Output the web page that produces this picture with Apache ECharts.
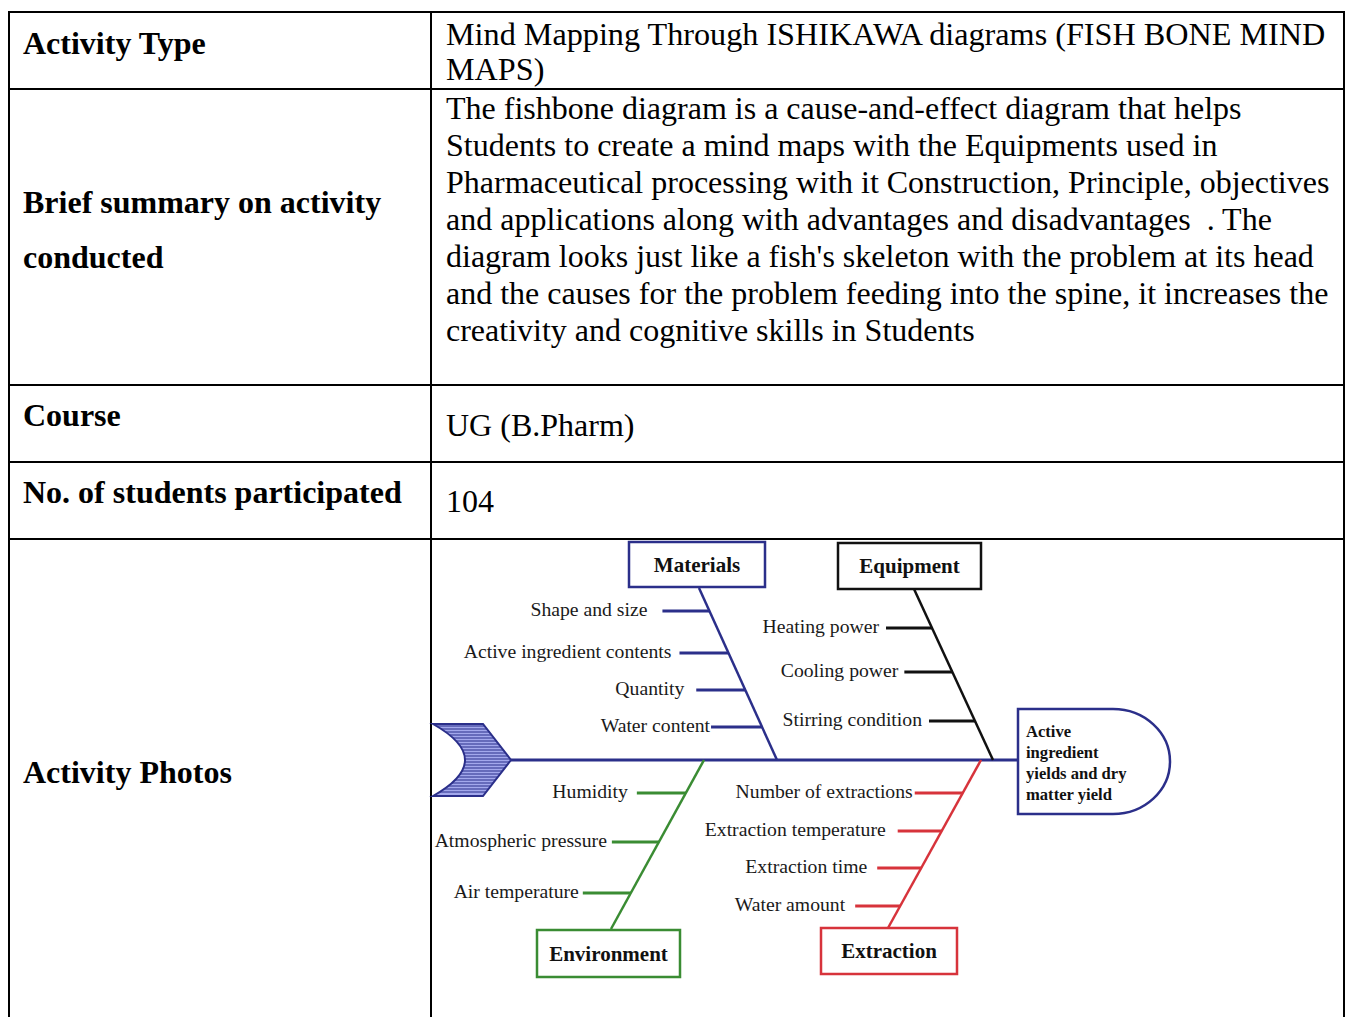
<!DOCTYPE html>
<html><head><meta charset="utf-8">
<script src="https://cdn.jsdelivr.net/npm/echarts@6/dist/echarts.min.js"></script>
<style>html,body{margin:0;padding:0;background:#fff}#c{width:1347px;height:1017px}</style>
</head><body><div id="c"></div>
<script>
// ---------- DATA ----------
const rowLabels = [
  ['Activity Type'],
  ['Brief summary on activity', 'conducted'],
  ['Course'],
  ['No. of students participated'],
  ['Activity Photos']
];
const rowValues = [
  ['Mind Mapping Through ISHIKAWA diagrams (FISH BONE MIND', 'MAPS)'],
  ['The fishbone diagram is a cause-and-effect diagram that helps',
   'Students to create a mind maps with the Equipments used in',
   'Pharmaceutical processing with it Construction, Principle, objectives',
   'and applications along with advantages and disadvantages  . The',
   "diagram looks just like a fish's skeleton with the problem at its head",
   'and the causes for the problem feeding into the spine, it increases the',
   'creativity and cognitive skills in Students'],
  ['UG (B.Pharm)'],
  ['104'],
  []
];
const branches = ['Materials', 'Equipment', 'Environment', 'Extraction'];
const materialsCauses = ['Shape and size', 'Active ingredient contents', 'Quantity', 'Water content'];
const equipmentCauses = ['Heating power', 'Cooling power', 'Stirring condition'];
const environmentCauses = ['Humidity', 'Atmospheric pressure', 'Air temperature'];
const extractionCauses = ['Number of extractions', 'Extraction temperature', 'Extraction time', 'Water amount'];
const effectLines = ['Active', 'ingredient', 'yields and dry', 'matter yield'];

// ---------- LAYOUT / STYLE ----------
const SERIF = '"Liberation Serif","Times New Roman",serif';
const causeLists = [materialsCauses, equipmentCauses, environmentCauses, extractionCauses];
const tableLeft = 9, tableRight = 1344, colDiv = 431, tableTop = 12, tableBottom = 1017;
const rowLines = [12, 89, 385, 462, 539];
const labelY = [[43], [202, 257], [415], [492], [772]];
const valueY = [[34, 69], [108, 145, 182, 219, 256, 293, 330], [425], [501], []];
const valueSize = [[32.2, 32.2], [32, 32, 32, 32, 32, 32, 32], [32], [32], []];
const NAVY = '#2b2f8a';
const branchLayout = [
  {color: NAVY,      box: [198, 3, 136, 45],   bone: [[268, 49], [346, 221]],  causeY: [72, 114, 151, 188], len: [47, 49, 49, 51], gap: [15, 8, 12, 1]},
  {color: '#111111', box: [407, 4, 143, 46],   bone: [[483, 50], [562, 221]],  causeY: [89, 133, 182],      len: [46, 48, 46],     gap: [7, 6, 7]},
  {color: '#3a8c33', box: [106, 391, 143, 47], bone: [[273, 221], [180, 390]], causeY: [254, 303, 354],     len: [49, 47, 48],     gap: [9, 5, 4]},
  {color: '#d7333b', box: [390, 389, 136, 46], bone: [[550, 221], [457, 389]], causeY: [254, 292, 329, 367], len: [48, 44, 44, 45], gap: [2, 12, 10, 10]}
];
const spineY = 221, spineStart = 80, spineEnd = 587;
const head = {left: 587, flat: 682, right: 739, top: 170, bottom: 275};
const effectTextX = 595, effectTextY = [192, 213, 234, 255];
const tail = {x0: 2, xr: 52, tip: 80, top: 185, bottom: 257, ctrl: 66};

// ---------- TABLE (graphic) ----------
const elements = [];
function hLine(y, x1, x2) { elements.push({type: 'line', shape: {x1, y1: y, x2, y2: y}, style: {stroke: '#000', lineWidth: 2}}); }
function vLine(x, y1, y2) { elements.push({type: 'line', shape: {x1: x, y1, x2: x, y2}, style: {stroke: '#000', lineWidth: 2}}); }
rowLines.forEach(y => hLine(y, tableLeft - 1, tableRight + 1));
vLine(tableLeft, tableTop, tableBottom);
vLine(colDiv, tableTop, tableBottom);
vLine(tableRight, tableTop, tableBottom);
rowLabels.forEach((lines, r) => lines.forEach((t, k) => elements.push({
  type: 'text', x: 23, y: labelY[r][k],
  style: {text: t, fill: '#000', font: 'bold 32px ' + SERIF, align: 'left', verticalAlign: 'middle'}
})));
rowValues.forEach((lines, r) => lines.forEach((t, k) => elements.push({
  type: 'text', x: 446, y: valueY[r][k],
  style: {text: t, fill: '#000', font: valueSize[r][k] + 'px ' + SERIF, align: 'left', verticalAlign: 'middle'}
})));

// ---------- FISHBONE (custom series on hidden axes) ----------
function renderBranch(params, api) {
  const i = params.dataIndex;
  const L = branchLayout[i];
  const c = p => api.coord(p);
  const ch = [];
  const b0 = L.bone[0], b1 = L.bone[1];
  const a = c(b0), b = c(b1);
  ch.push({type: 'line', shape: {x1: a[0], y1: a[1], x2: b[0], y2: b[1]}, style: {stroke: L.color, lineWidth: 2.5}});
  causeLists[i].forEach((name, k) => {
    const y = L.causeY[k];
    const t = (y - b0[1]) / (b1[1] - b0[1]);
    const xb = b0[0] + t * (b1[0] - b0[0]);
    const e = c([xb, y]), s = c([xb - L.len[k], y]);
    ch.push({type: 'line', shape: {x1: s[0], y1: s[1], x2: e[0], y2: e[1]}, style: {stroke: L.color, lineWidth: 3}});
    ch.push({type: 'text', x: s[0] - L.gap[k], y: s[1] - 2,
      style: {text: name, fill: '#1a1a1a', font: '19.7px ' + SERIF, align: 'right', verticalAlign: 'middle'}});
  });
  const [bx, by, bw, bh] = L.box;
  const p0 = c([bx, by]), p1 = c([bx + bw, by + bh]);
  ch.push({type: 'rect', shape: {x: p0[0], y: p0[1], width: p1[0] - p0[0], height: p1[1] - p0[1]},
    style: {fill: '#fff', stroke: L.color, lineWidth: 2.5}});
  const bc = c([bx + bw / 2, by + bh / 2]);
  ch.push({type: 'text', x: bc[0], y: bc[1],
    style: {text: branches[i], fill: '#111', font: 'bold 21px ' + SERIF, align: 'center', verticalAlign: 'middle'}});
  return {type: 'group', children: ch};
}

function renderSpine(params, api) {
  const c = p => api.coord(p);
  const ch = [];
  const s = c([spineStart, spineY]), e = c([spineEnd, spineY]);
  ch.push({type: 'line', shape: {x1: s[0], y1: s[1], x2: e[0], y2: e[1]}, style: {stroke: NAVY, lineWidth: 3}});
  // tail
  const tl = c([tail.x0, tail.top]), tr = c([tail.xr, tail.top]), tp = c([tail.tip, spineY]),
        br = c([tail.xr, tail.bottom]), bl = c([tail.x0, tail.bottom]), cp = c([tail.ctrl, spineY]);
  const pathD = `M${tl[0]},${tl[1]} L${tr[0]},${tr[1]} L${tp[0]},${tp[1]} L${br[0]},${br[1]} L${bl[0]},${bl[1]} Q${cp[0]},${cp[1]} ${tl[0]},${tl[1]} Z`;
  ch.push({type: 'path', shape: {pathData: pathD}, style: {fill: '#a3a8ec', stroke: 'none'}});
  const h = (tail.bottom - tail.top);
  for (let y = tail.top + 2; y <= tail.bottom - 2; y += 3) {
    const t = (y - tail.top) / h;
    const xl = tail.x0 + 2 * (tail.ctrl - tail.x0) * t * (1 - t);
    const xr = tail.xr + (tail.tip - tail.xr) * (1 - Math.abs(y - spineY) / (h / 2));
    const p = c([xl, y]), q = c([xr, y]);
    ch.push({type: 'line', shape: {x1: p[0], y1: p[1], x2: q[0], y2: q[1]}, style: {stroke: NAVY, lineWidth: 1.2}});
  }
  ch.push({type: 'path', shape: {pathData: pathD}, style: {fill: 'none', stroke: NAVY, lineWidth: 2}});
  // head (effect)
  const hl = c([head.left, head.top]), hf = c([head.flat, head.top]), hb = c([head.flat, head.bottom]), hlb = c([head.left, head.bottom]);
  const rx = c([head.right, spineY])[0] - hf[0], ry = (hb[1] - hf[1]) / 2;
  const hd = `M${hl[0]},${hl[1]} L${hf[0]},${hf[1]} A${rx},${ry} 0 0 1 ${hb[0]},${hb[1]} L${hlb[0]},${hlb[1]} Z`;
  ch.push({type: 'path', shape: {pathData: hd}, style: {fill: '#fff', stroke: NAVY, lineWidth: 2.5}});
  effectLines.forEach((t, k) => {
    const p = c([effectTextX, effectTextY[k]]);
    ch.push({type: 'text', x: p[0], y: p[1],
      style: {text: t, fill: '#111', font: 'bold 16.6px ' + SERIF, align: 'left', verticalAlign: 'middle'}});
  });
  return {type: 'group', children: ch};
}

const chart = echarts.init(document.getElementById('c'), null, {renderer: 'svg', width: 1347, height: 1017});
chart.setOption({
  backgroundColor: '#fff',
  animation: false,
  graphic: {elements},
  grid: {left: 431, top: 539, width: 740, height: 478},
  xAxis: {type: 'value', min: 0, max: 740, show: false},
  yAxis: {type: 'value', min: 0, max: 478, inverse: true, show: false},
  series: [
    {type: 'custom', coordinateSystem: 'cartesian2d', clip: false, renderItem: renderSpine, data: [[0, 0]], silent: true},
    {type: 'custom', coordinateSystem: 'cartesian2d', clip: false, renderItem: renderBranch,
     data: branches.map((b, i) => [i, 0]), silent: true}
  ]
});
</script></body></html>
